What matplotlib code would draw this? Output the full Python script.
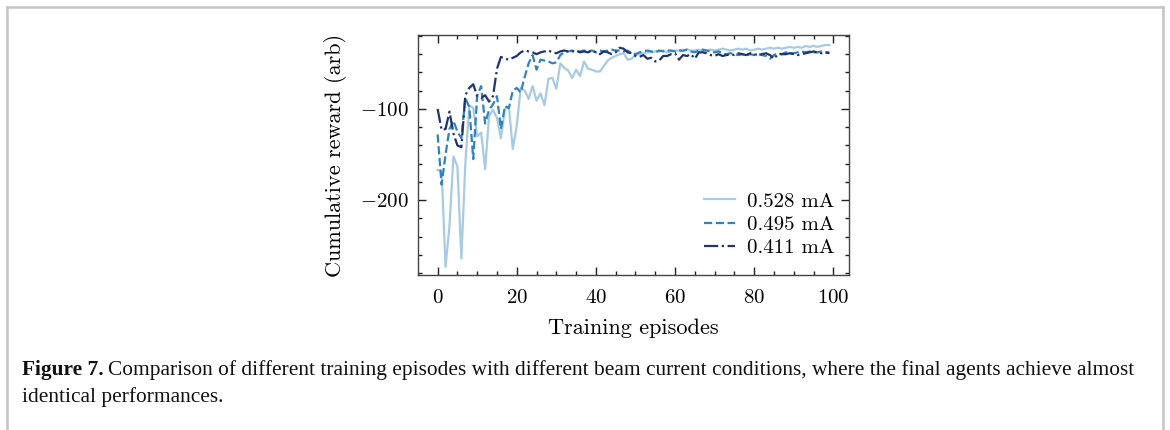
import matplotlib
matplotlib.use("Agg")
import matplotlib.pyplot as plt
from matplotlib.lines import Line2D
import numpy as np

# episodes and rewards
episodes = np.arange(100)

reward_528 = [-167, -168, -273, -228, -152, -163, -264, -160, -96, -99,
              -130, -126, -166, -108, -101, -110, -132, -100, -98, -144,
              -118, -77, -80, -89, -75, -91, -83, -96, -67, -66,
              -78, -50, -55, -58, -66, -57, -64, -48, -56, -57,
              -59, -59, -53, -47, -44, -42, -40, -39, -46, -45,
              -41, -40, -39, -38, -38, -37, -37, -36, -38, -37,
              -36, -36, -37, -35, -36, -36, -35, -37, -36, -35,
              -36, -35, -34, -35, -36, -35, -34, -35, -34, -36,
              -35, -34, -35, -34, -33, -34, -33, -34, -33, -32,
              -33, -32, -33, -31, -32, -31, -32, -31, -30, -30]

reward_495 = [-128, -183, -150, -122, -113, -125, -132, -88, -98, -155,
              -85, -75, -116, -101, -95, -86, -122, -97, -99, -80,
              -77, -82, -65, -50, -41, -57, -46, -47, -48, -50,
              -49, -41, -38, -37, -36, -38, -37, -36, -37, -36,
              -38, -36, -37, -36, -35, -36, -36, -37, -36, -39,
              -40, -38, -37, -36, -37, -38, -36, -37, -36, -36,
              -37, -36, -36, -35, -37, -38, -36, -35, -36, -37,
              -38, -37, -39, -40, -39, -40, -41, -40, -41, -40,
              -41, -40, -41, -42, -45, -41, -39, -40, -38, -39,
              -39, -38, -37, -38, -37, -38, -38, -37, -38, -38]

reward_411 = [-100, -123, -122, -103, -127, -140, -142, -85, -77, -73,
              -86, -88, -85, -92, -86, -56, -43, -45, -46, -44,
              -42, -38, -36, -37, -38, -40, -38, -37, -36, -38,
              -39, -37, -36, -37, -37, -36, -38, -37, -38, -36,
              -38, -40, -37, -38, -40, -38, -33, -34, -38, -39,
              -42, -43, -41, -45, -44, -48, -47, -42, -42, -40,
              -39, -46, -41, -42, -40, -45, -38, -38, -39, -41,
              -42, -40, -42, -41, -40, -41, -39, -40, -41, -39,
              -40, -41, -40, -39, -41, -45, -40, -40, -40, -39,
              -40, -41, -40, -39, -38, -37, -38, -39, -38, -39]

labels = ["0.528 mA", "0.495 mA", "0.411 mA"]

caption_bold = "Figure 7."
caption_1 = ("Comparison of different training episodes with different beam current "
             "conditions, where the final agents achieve almost")
caption_2 = "identical performances."

plt.rcParams["font.family"] = "serif"
plt.rcParams["font.serif"] = ["cmr10"]
plt.rcParams["mathtext.fontset"] = "cm"
plt.rcParams["axes.formatter.use_mathtext"] = True

fig = plt.figure(figsize=(11.7, 4.3), dpi=100)
ax = fig.add_axes([0.3573, 0.3605, 0.3683, 0.5581])

ax.plot(episodes, reward_528, color="#a6cbe3", lw=1.6, ls="-", label=labels[0])
ax.plot(episodes, reward_495, color="#3182bd", lw=1.6, ls="--", label=labels[1])
ax.plot(episodes, reward_411, color="#1f3470", lw=1.6, ls="-.", label=labels[2])

ax.set_xlim(-4.95, 103.95)
ax.set_ylim(-282, -19)
ax.set_xticks([0, 20, 40, 60, 80, 100])
ax.set_yticks([-200, -100])
ax.xaxis.set_minor_locator(matplotlib.ticker.MultipleLocator(5))
ax.yaxis.set_minor_locator(matplotlib.ticker.MultipleLocator(20))
ax.tick_params(which="both", direction="in", top=True, right=True, labelsize=15, width=1.0, color="#222222")
ax.tick_params(which="major", length=6)
ax.tick_params(which="minor", length=3)
ax.tick_params(axis="x", which="major", pad=10)
ax.tick_params(axis="y", which="major", pad=7)
for s in ax.spines.values():
    s.set_linewidth(1.0)
    s.set_color("#444444")

ax.set_xlabel("Training episodes", fontsize=16, labelpad=8)
ax.set_ylabel("Cumulative reward (arb)", fontsize=16, labelpad=9)

ax.legend(loc="lower right", bbox_to_anchor=(0.986, 0.04), frameon=False, fontsize=15,
          handlelength=1.45, handletextpad=0.6, labelspacing=0.22, borderaxespad=0.0)

# caption
cap_font = dict(family="Liberation Serif", fontsize=15.4, color="#111111")
t = fig.text(22 / 1170, 1 - 370 / 430, caption_bold, fontweight="bold", va="center", **cap_font)
fig.canvas.draw()
bb = t.get_window_extent(fig.canvas.get_renderer())
fig.text(bb.x1 / 1170 + 4 / 1170, 1 - 370 / 430, caption_1, va="center", **cap_font)
fig.text(22 / 1170, 1 - 397 / 430, caption_2, va="center", **cap_font)

# grey frame around the figure
frame = dict(color="#c4c4c4", lw=1.8, transform=fig.transFigure)
fig.add_artist(Line2D([7 / 1170, 1163 / 1170], [1 - 7 / 430, 1 - 7 / 430], **frame))
fig.add_artist(Line2D([7 / 1170, 7 / 1170], [0, 1 - 7 / 430], **frame))
fig.add_artist(Line2D([1163 / 1170, 1163 / 1170], [0, 1 - 7 / 430], **frame))

fig.savefig("out.png", dpi=100)
